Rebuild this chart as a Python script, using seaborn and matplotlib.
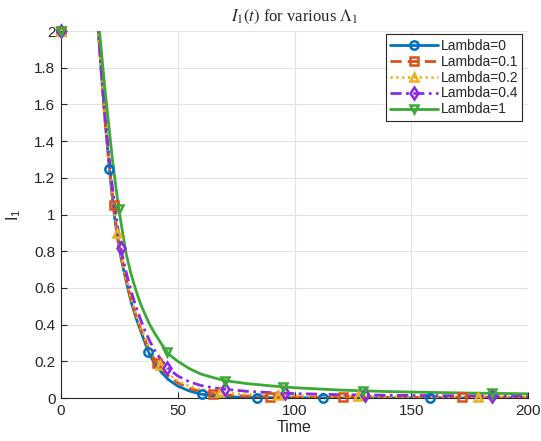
import matplotlib
matplotlib.use('Agg')
import matplotlib.pyplot as plt
from matplotlib.lines import Line2D
from matplotlib.ticker import FormatStrFormatter
import seaborn as sns

# time grid shared by all curves
time = [0, 3, 6, 9, 12, 14, 15, 16, 17, 18, 19, 20, 21, 22, 23, 24, 25, 26,
        28, 30, 32, 34, 36, 38, 40, 43, 46, 50, 55, 60, 65, 70,
        80, 90, 100, 120, 140, 160, 180, 200]

# I1(t) (values above 2 are clipped by the axes)
i_lam0 = [2.0, 3.0, 3.6, 3.6, 3.1, 2.55, 2.27, 2.0, 1.82, 1.65, 1.49, 1.35, 1.21, 1.09, 0.98, 0.89, 0.81, 0.745,
          0.63, 0.525, 0.44, 0.37, 0.30, 0.235, 0.19, 0.14, 0.10, 0.065, 0.038, 0.021, 0.012, 0.007,
          0.003, 0.0015, 0.001, 0.0005, 0.0003, 0.0002, 0.0001, 0.0001]
i_lam01 = [2.0, 3.0, 3.6, 3.6, 3.1, 2.55, 2.27, 2.0, 1.82, 1.65, 1.495, 1.355, 1.225, 1.105, 0.995, 0.90, 0.82, 0.755,
           0.64, 0.535, 0.45, 0.38, 0.315, 0.255, 0.21, 0.16, 0.12, 0.083, 0.053, 0.035, 0.024, 0.017,
           0.010, 0.007, 0.005, 0.004, 0.003, 0.003, 0.003, 0.003]
i_lam02 = [2.0, 3.0, 3.6, 3.6, 3.1, 2.55, 2.27, 2.0, 1.822, 1.655, 1.50, 1.36, 1.235, 1.115, 1.005, 0.91, 0.83, 0.76,
           0.645, 0.545, 0.46, 0.39, 0.325, 0.265, 0.22, 0.17, 0.13, 0.093, 0.064, 0.046, 0.034, 0.027,
           0.019, 0.015, 0.012, 0.009, 0.008, 0.007, 0.006, 0.006]
i_lam04 = [2.0, 3.0, 3.6, 3.6, 3.1, 2.56, 2.28, 2.0, 1.83, 1.67, 1.52, 1.39, 1.26, 1.15, 1.05, 0.955, 0.87, 0.79,
           0.68, 0.585, 0.50, 0.43, 0.365, 0.31, 0.262, 0.205, 0.16, 0.12, 0.088, 0.068, 0.056, 0.048,
           0.036, 0.029, 0.024, 0.018, 0.015, 0.013, 0.012, 0.011]
i_lam1 = [2.0, 2.9, 3.5, 3.5, 3.0, 2.5, 2.22, 2.06, 1.93, 1.79, 1.66, 1.54, 1.42, 1.30, 1.20, 1.10, 1.01, 0.93,
          0.78, 0.675, 0.59, 0.515, 0.455, 0.40, 0.355, 0.295, 0.24, 0.20, 0.16, 0.13, 0.112, 0.095,
          0.078, 0.066, 0.056, 0.043, 0.035, 0.030, 0.026, 0.023]

# marker positions (t, I1) as seen in the picture
mk_t0 = [0, 20.7, 37.4, 60.2, 83.8, 112, 158]
mk_y0 = [2.0, 1.25, 0.25, 0.021, 0.002, 0.0007, 0.0002]
mk_t01 = [0, 22.5, 41, 65, 89.5, 120.8, 171.7]
mk_y01 = [2.0, 1.05, 0.193, 0.024, 0.007, 0.004, 0.003]
mk_t02 = [0, 24.1, 42.4, 68, 93, 127, 178.5]
mk_y02 = [2.0, 0.90, 0.18, 0.03, 0.014, 0.009, 0.006]
mk_t04 = [0, 25.6, 45.5, 70.2, 96, 130, 184.6]
mk_y04 = [2.0, 0.82, 0.165, 0.048, 0.026, 0.016, 0.012]
mk_t1 = [0, 24.8, 45.3, 70.2, 95.2, 129.5, 184.4]
mk_y1 = [2.0, 1.03, 0.253, 0.095, 0.061, 0.039, 0.025]

labels = ['Lambda=0', 'Lambda=0.1', 'Lambda=0.2', 'Lambda=0.4', 'Lambda=1']
colors = ['#0072BD', '#D95319', '#EDB120', '#8A2BE2', '#3AAA35']
styles = ['-', (0, (4, 2.2)), (0, (0.8, 1.3)), (0, (4, 1.6, 1, 1.6)), '-']
markers = ['o', 's', '^', 'd', 'v']

curves = [i_lam0, i_lam01, i_lam02, i_lam04, i_lam1]
mk_ts = [mk_t0, mk_t01, mk_t02, mk_t04, mk_t1]
mk_ys = [mk_y0, mk_y01, mk_y02, mk_y04, mk_y1]

sns.set_style('ticks')
plt.rcParams['font.family'] = ['Liberation Sans', 'DejaVu Sans']
plt.rcParams['mathtext.fontset'] = 'stix'

fig = plt.figure(figsize=(5.41, 4.41), dpi=100)
ax = fig.add_axes([0.1128, 0.0975, 0.8632, 0.8322])

handles = []
for y, mt, my, lab, c, ls, m in zip(curves, mk_ts, mk_ys, labels, colors, styles, markers):
    sns.lineplot(x=time, y=y, ax=ax, color=c, linestyle=ls, lw=2, legend=False, sort=False)
    ax.plot(mt, my, linestyle='none', marker=m, ms=6, mew=1.8, mfc='none', mec=c,
            clip_on=False, zorder=5)
    handles.append(Line2D([], [], color=c, linestyle=ls, lw=2, marker=m, ms=6, mew=1.8,
                          mfc='none', mec=c, label=lab))

ax.set_xlim(0, 200)
ax.set_ylim(0, 2)
ax.set_xticks([0, 50, 100, 150, 200])
ax.set_yticks([0, 0.2, 0.4, 0.6, 0.8, 1.0, 1.2, 1.4, 1.6, 1.8, 2.0])
ax.yaxis.set_major_formatter(FormatStrFormatter('%g'))
ax.grid(True, color='#e3e3e3', lw=0.8)
ax.set_axisbelow(True)
sns.despine(ax=ax)
for s in ['left', 'bottom']:
    ax.spines[s].set_color('#262626')
    ax.spines[s].set_linewidth(0.8)
ax.tick_params(direction='in', length=4, width=0.8, labelsize=11, colors='#262626', pad=4)

ax.set_xlabel('Time', fontsize=11.5, color='#262626', labelpad=2)
ax.set_ylabel(r'$\mathregular{I_1}$', fontsize=11.5, color='#262626', labelpad=8)
ax.set_title(r'$I_1(t)$ for various $\Lambda_1$', fontsize=12, family='Liberation Serif', pad=7)

leg = ax.legend(handles=handles, loc='upper right', bbox_to_anchor=(0.995, 1.0), fontsize=10,
                handlelength=3.4, handletextpad=0.2, borderpad=0.3, labelspacing=0.14,
                borderaxespad=0.25, fancybox=False, framealpha=1, edgecolor='#262626')
leg.get_frame().set_linewidth(0.8)

fig.savefig('out.png', dpi=100)
